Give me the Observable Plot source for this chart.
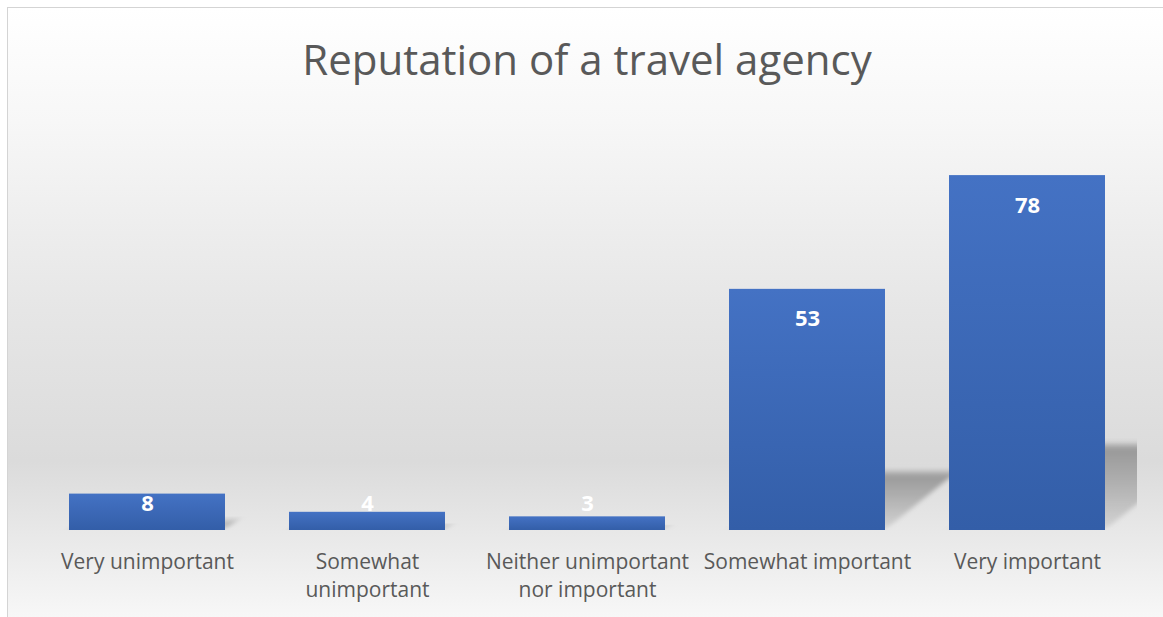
<!DOCTYPE html>
<html>
<head>
<meta charset="utf-8">
<script src="https://cdn.jsdelivr.net/npm/d3@7"></script>
<script src="https://cdn.jsdelivr.net/npm/@observablehq/plot@0.6"></script>
<style>
  html, body { margin: 0; padding: 0; background: #ffffff; }
  #wrap { position: relative; width: 1163px; height: 617px; overflow: hidden; font-family: "Open Sans", sans-serif; }
  #frame { position: absolute; left: 7px; top: 7px; width: 1170px; height: 630px; border: 1px solid #d4d4d4;
    background: linear-gradient(to bottom, #ffffff 0%, #f7f7f7 18%, #e6e6e6 48%, #dbdbdb 72%, #ebebeb 86%, #fbfbfb 100%); }
  #title { position: relative; height: 120px; box-sizing: border-box; padding-top: 30px; padding-left: 11px;
    text-align: center; font-size: 42px; line-height: 57px; color: #595959; }
  #chart { position: relative; }
</style>
</head>
<body>
<div id="wrap">
  <div id="frame"></div>
  <div id="title">Reputation of a travel agency</div>
  <div id="chart"></div>
</div>
<script>
const categories = ["Very unimportant", "Somewhat unimportant", "Neither unimportant nor important", "Somewhat important", "Very important"];
const values = [8, 4, 3, 53, 78];
const tickLabels = ["Very unimportant", "Somewhat\nunimportant", "Neither unimportant\nnor important", "Somewhat important", "Very important"];

const data = categories.map((c, i) => ({category: c, value: values[i]}));
const shadowRatio = 0.24;

const plot = Plot.plot({
  width: 1163,
  height: 497,
  marginLeft: 37,
  marginRight: 26,
  marginTop: 46,
  marginBottom: 87,
  x: {domain: categories, paddingInner: 0.29, paddingOuter: 0.145, axis: null},
  y: {domain: [0, 80], axis: null},
  style: {background: "transparent", fontFamily: "Open Sans", overflow: "visible"},
  marks: [
    // perspective shadows (first bar group)
    Plot.barY(data, {x: "category", y1: 0, y2: d => d.value * shadowRatio, fill: "url(#shadowGrad)"}),
    // bars (second bar group)
    Plot.barY(data, {x: "category", y: "value", fill: "url(#barGrad)"}),
    Plot.text(data, {x: "category", y: d => Math.max(d.value, 12.5), dy: 30, text: d => String(d.value),
      fill: "white", fontSize: 22, fontWeight: "bold"}),
    Plot.axisX({tickSize: 0, tickPadding: 18, fontSize: 21, lineHeight: 1.36, color: "#595959", label: null,
      tickFormat: d => tickLabels[categories.indexOf(d)]})
  ]
});
document.getElementById("chart").appendChild(plot);

// gradients, blur and frame clip defined inside the plot's own svg
const svg = d3.select(plot);
const xr = plot.scale("x").range, yr = plot.scale("y").range;
const defs = svg.insert("defs", ":first-child");
const bg = defs.append("linearGradient").attr("id", "barGrad").attr("x1", 0).attr("y1", 0).attr("x2", 0).attr("y2", 1);
bg.append("stop").attr("offset", "0%").attr("stop-color", "#4472c4");
bg.append("stop").attr("offset", "100%").attr("stop-color", "#335ea8");
const sgr = defs.append("linearGradient").attr("id", "shadowGrad").attr("x1", 0).attr("y1", 0).attr("x2", 0).attr("y2", 1);
sgr.append("stop").attr("offset", "0%").attr("stop-color", "#8f8f8f").attr("stop-opacity", 0.9);
sgr.append("stop").attr("offset", "100%").attr("stop-color", "#8f8f8f").attr("stop-opacity", 0.2);
defs.append("filter").attr("id", "shadowBlur").attr("x", "-50%").attr("y", "-50%").attr("width", "200%").attr("height", "200%")
  .append("feGaussianBlur").attr("stdDeviation", 3.5);
defs.append("clipPath").attr("id", "frameClip").append("rect")
  .attr("x", Math.min(...xr)).attr("y", Math.min(...yr))
  .attr("width", Math.abs(xr[1] - xr[0])).attr("height", Math.abs(yr[1] - yr[0]));

// perspective shadow: skew the shadow rects about the baseline, blur, clip to the frame
const base = plot.scale("y").apply(0);
const barGroups = svg.selectAll('g[aria-label="bar"]').nodes();
const sg = d3.select(barGroups[0]);
sg.attr("clip-path", "url(#frameClip)");
sg.selectAll("rect")
  .attr("transform", `translate(0,${base}) skewX(-51) translate(0,${-base})`)
  .attr("filter", "url(#shadowBlur)");
</script>
</body>
</html>
